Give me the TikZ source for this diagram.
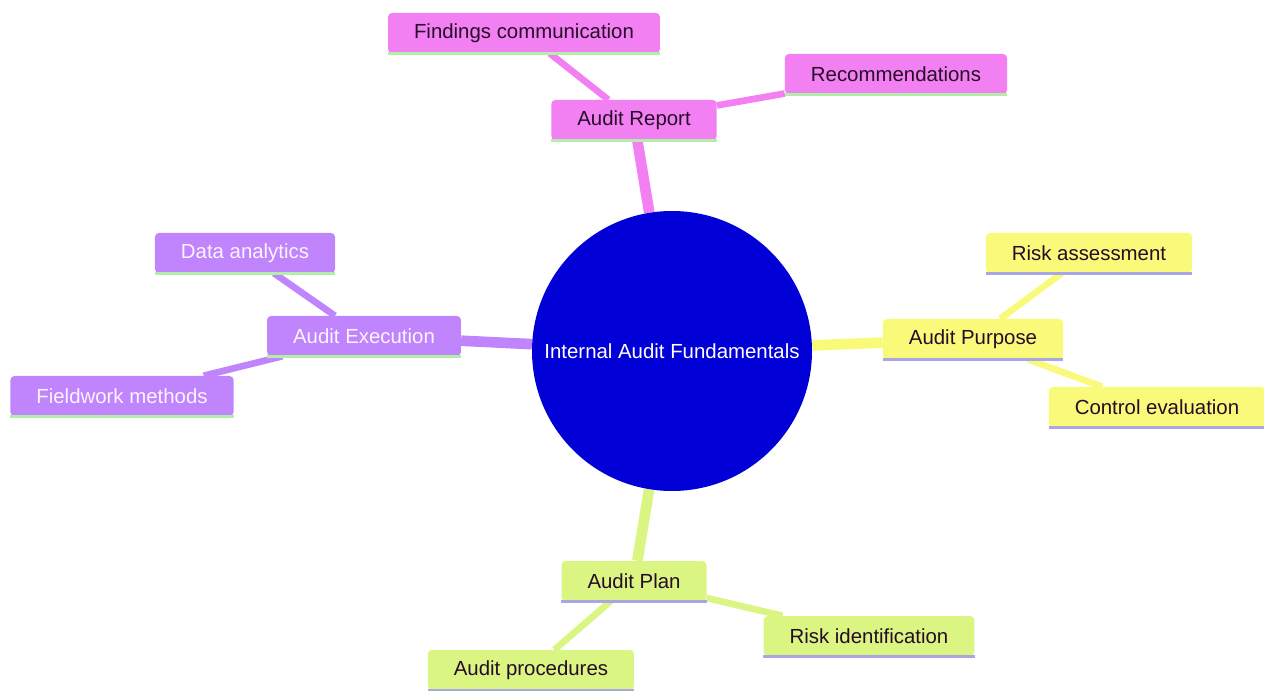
\documentclass[tikz,border=0pt]{standalone}
\usepackage{fontspec}
\setmainfont{Liberation Sans}
\usetikzlibrary{backgrounds}

\definecolor{reportpink}{RGB}{242,128,242}
\definecolor{execpurple}{RGB}{192,132,252}
\definecolor{purposeyellow}{RGB}{250,250,122}
\definecolor{plangreen}{RGB}{218,245,130}
\definecolor{rootblue}{RGB}{0,0,215}
\definecolor{darktext}{RGB}{38,12,38}
\definecolor{lighttext}{RGB}{252,244,255}
\definecolor{underlinegreen}{RGB}{178,238,170}
\definecolor{underlinelav}{RGB}{168,166,228}

\begin{document}
\begin{tikzpicture}[x=0.75pt, y=-0.75pt,
		font=\fontsize{15.3}{18}\selectfont,
		topic/.style={rectangle, rounded corners=3pt, minimum height=30pt,
			inner xsep=19.5pt, inner ysep=0pt},
		reportbox/.style={topic, fill=reportpink, text=darktext},
		execbox/.style={topic, fill=execpurple, text=lighttext},
		purposebox/.style={topic, fill=purposeyellow, text=darktext},
		planbox/.style={topic, fill=plangreen, text=darktext},
		trunk/.style={line width=8pt},
		twig/.style={line width=5pt},
		underline/.style={line width=2.25pt}
	]
	\useasboundingbox (0,0) rectangle (1264,691);

	\node[circle, fill=rootblue, text=white, minimum size=210pt, inner sep=0pt] (root) at (672,351) {Internal Audit Fundamentals};

	\node[reportbox] (report) at (634,120) {Audit Report};
	\node[reportbox] (findings) at (524,33) {Findings communication};
	\node[reportbox] (recomm) at (896,74) {Recommendations};

	\node[execbox] (exec) at (364,336) {Audit Execution};
	\node[execbox] (analytics) at (245,253) {Data analytics};
	\node[execbox] (fieldwork) at (122,396) {Fieldwork methods};

	\node[purposebox] (purpose) at (973,339) {Audit Purpose};
	\node[purposebox] (riskassess) at (1089,253) {Risk assessment};
	\node[purposebox] (control) at (1157,407) {Control evaluation};

	\node[planbox] (plan) at (634,581) {Audit Plan};
	\node[planbox] (riskid) at (869,636) {Risk identification};
	\node[planbox] (procedures) at (531,670) {Audit procedures};

	\begin{scope}[on background layer]
		\draw[trunk, reportpink] (root) -- (report);
		\draw[trunk, execpurple] (root) -- (exec);
		\draw[trunk, purposeyellow] (root) -- (purpose);
		\draw[trunk, plangreen] (root) -- (plan);

		\draw[twig, reportpink] (report) -- (findings);
		\draw[twig, reportpink] (report) -- (recomm);
		\draw[twig, execpurple] (exec) -- (analytics);
		\draw[twig, execpurple] (exec) -- (fieldwork);
		\draw[twig, purposeyellow] (purpose) -- (riskassess);
		\draw[twig, purposeyellow] (purpose) -- (control);
		\draw[twig, plangreen] (plan) -- (riskid);
		\draw[twig, plangreen] (plan) -- (procedures);
	\end{scope}

	% coloured line under each box
	\foreach \n in {report, findings, recomm, exec, analytics, fieldwork}
		\draw[underline, underlinegreen] (\n.south west) -- (\n.south east);
	\foreach \n in {purpose, riskassess, control, plan, riskid, procedures}
		\draw[underline, underlinelav] (\n.south west) -- (\n.south east);
\end{tikzpicture}
\end{document}
